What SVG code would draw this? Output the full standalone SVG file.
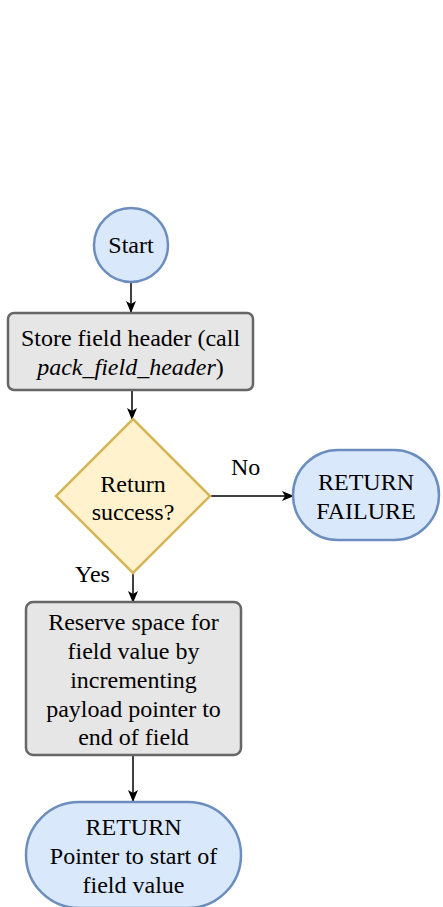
<svg xmlns="http://www.w3.org/2000/svg" width="443" height="907" viewBox="0 0 443 907">
  <defs>
    <marker id="arrow" viewBox="0 0 12 12" refX="11" refY="6" markerWidth="12" markerHeight="12" markerUnits="userSpaceOnUse" orient="auto">
      <path d="M0,1 L12,6 L0,11 L3,6 Z" fill="#000"/>
    </marker>
    <style>
      text { font-family: "Liberation Serif", "Times New Roman", serif; font-size: 24px; fill: #000; text-anchor: middle; }
      .term { fill: #dae8fc; stroke: #6c8ebf; stroke-width: 2.5; }
      .proc { fill: #e6e6e6; stroke: #666666; stroke-width: 2.5; }
      .dec { fill: #fff2cc; stroke: #d6b656; stroke-width: 2.5; }
      .edge { stroke: #000; stroke-width: 1.5; fill: none; marker-end: url(#arrow); }
      .lbl { text-anchor: start; }
    </style>
  </defs>
  <rect width="443" height="907" fill="#fff"/>

  <g id="edges">
    <line class="edge" x1="131" y1="283" x2="131" y2="312"/>
    <line class="edge" x1="132" y1="390" x2="132" y2="419"/>
    <line class="edge" x1="211" y1="496" x2="293" y2="496"/>
    <line class="edge" x1="133" y1="573" x2="133" y2="602"/>
    <line class="edge" x1="133" y1="756" x2="133" y2="801"/>
    <text class="lbl" x="231" y="475">No</text>
    <text class="lbl" x="75" y="582">Yes</text>
  </g>

  <g id="start">
    <circle class="term" cx="131" cy="245" r="37"/>
    <text x="131" y="253">Start</text>
  </g>

  <g id="store-header">
    <rect class="proc" x="8" y="313" width="245" height="77" rx="6"/>
    <text x="130.5" y="346">Store field header (call</text>
    <text x="130.5" y="375"><tspan font-style="italic">pack_field_header</tspan>)</text>
  </g>

  <g id="check-success">
    <polygon class="dec" points="133,419 210,496 133,573 56,496"/>
    <text x="133" y="492">Return</text>
    <text x="133" y="520">success?</text>
  </g>

  <g id="return-failure">
    <rect class="term" x="293" y="450" width="146" height="90" rx="45"/>
    <text x="366" y="490">RETURN</text>
    <text x="366" y="519">FAILURE</text>
  </g>

  <g id="reserve-space">
    <rect class="proc" x="26" y="602" width="215" height="153" rx="7"/>
    <text x="133.5" y="630">Reserve space for</text>
    <text x="133.5" y="659">field value by</text>
    <text x="133.5" y="688">incrementing</text>
    <text x="133.5" y="717">payload pointer to</text>
    <text x="133.5" y="745">end of field</text>
  </g>

  <g id="return-pointer">
    <rect class="term" x="26" y="802" width="215" height="106" rx="53"/>
    <text x="133.5" y="835">RETURN</text>
    <text x="133.5" y="864">Pointer to start of</text>
    <text x="133.5" y="893">field value</text>
  </g>
</svg>
